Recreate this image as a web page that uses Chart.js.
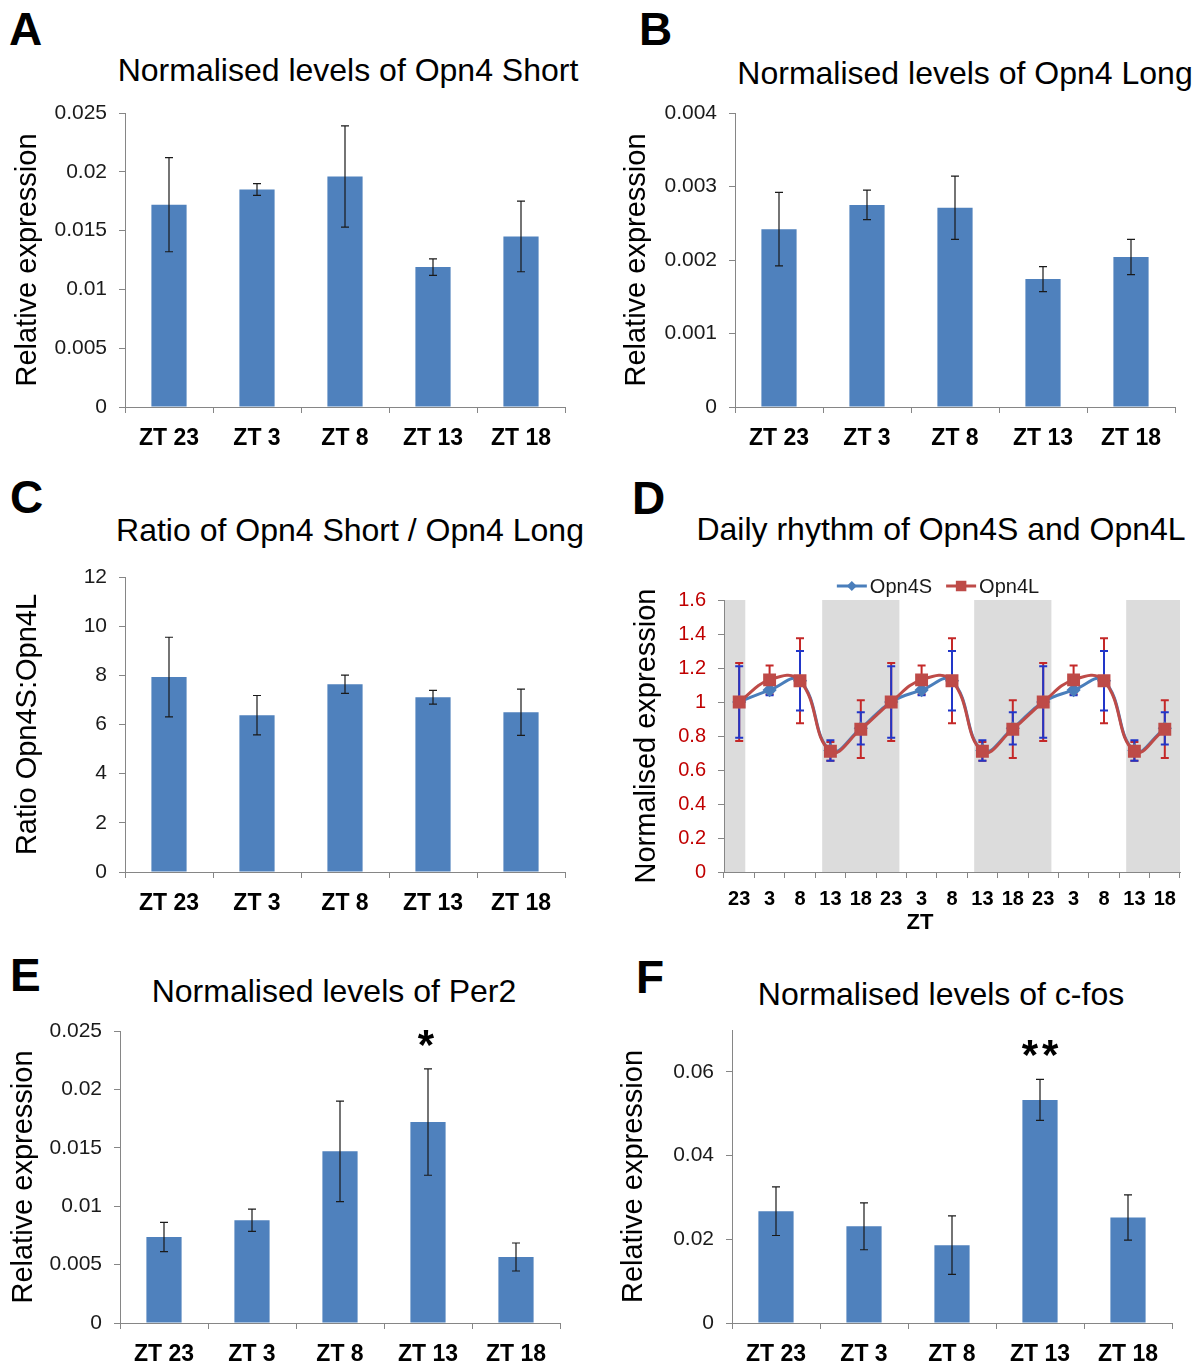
<!DOCTYPE html>
<html>
<head>
<meta charset="utf-8">
<script src="https://cdn.jsdelivr.net/npm/chart.js@4.4.1/dist/chart.umd.min.js"></script>
<style>
  body { margin: 0; background: #fff; }
  #page { position: relative; width: 1195px; height: 1366px; overflow: hidden; font-family: "Liberation Sans", Arial, sans-serif; color: #000; }
  canvas { position: absolute; }
  .letter { position: absolute; font-weight: bold; font-size: 46px; line-height: 46px; }
  .title { position: absolute; font-size: 32px; line-height: 36px; white-space: nowrap; transform: translateX(-50%); }
  .axislabel { position: absolute; font-size: 22px; font-weight: bold; line-height: 26px; transform: translateX(-50%); }
</style>
</head>
<body>
<div id="page">
  <div class="letter" style="left:9px;top:6px">A</div>
  <div class="letter" style="left:639px;top:6px">B</div>
  <div class="letter" style="left:10px;top:474px">C</div>
  <div class="letter" style="left:632px;top:475px">D</div>
  <div class="letter" style="left:10px;top:952px">E</div>
  <div class="letter" style="left:636px;top:954px">F</div>

  <div class="title" style="left:348px;top:52px">Normalised levels of Opn4 Short</div>
  <div class="title" style="left:965px;top:55px">Normalised levels of Opn4 Long</div>
  <div class="title" style="left:350px;top:512px">Ratio of Opn4 Short / Opn4 Long</div>
  <div class="title" style="left:941px;top:511px">Daily rhythm of Opn4S and Opn4L</div>
  <div class="title" style="left:334px;top:973px">Normalised levels of Per2</div>
  <div class="title" style="left:941px;top:976px">Normalised levels of c-fos</div>

  <canvas id="chartA" width="600" height="387" style="left:0;top:83px"></canvas>
  <canvas id="chartB" width="595" height="387" style="left:600px;top:83px"></canvas>
  <canvas id="chartC" width="600" height="388" style="left:0;top:547px"></canvas>
  <canvas id="chartD" width="595" height="390" style="left:600px;top:555px"></canvas>
  <canvas id="chartE" width="600" height="365" style="left:0;top:1001px"></canvas>
  <canvas id="chartF" width="595" height="366" style="left:600px;top:1000px"></canvas>

  <div class="axislabel" style="left:920px;top:909px">ZT</div>
</div>
<script>
// categories for the bar panels
const categories = ['ZT 23', 'ZT 3', 'ZT 8', 'ZT 13', 'ZT 18'];

// A - Opn4 Short
const opn4ShortMean = [0.0172, 0.0185, 0.0196, 0.0119, 0.0145];
const opn4ShortErr  = [0.0040, 0.0005, 0.0043, 0.0007, 0.0030];

// B - Opn4 Long
const opn4LongMean = [0.00242, 0.00275, 0.00271, 0.00174, 0.00204];
const opn4LongErr  = [0.00050, 0.00020, 0.00043, 0.00017, 0.00024];

// C - ratio short / long
const ratioMean = [7.93, 6.38, 7.64, 7.11, 6.50];
const ratioErr  = [1.62, 0.80, 0.37, 0.28, 0.94];

// E - Per2
const per2Mean  = [0.00736, 0.0088, 0.0147, 0.0172, 0.00565];
const per2Err   = [0.00125, 0.00095, 0.0043, 0.00455, 0.0012];
const per2Stars = ['', '', '', '*', ''];

// F - c-fos
const cfosMean  = [0.0267, 0.0231, 0.0186, 0.0533, 0.0252];
const cfosErr   = [0.0058, 0.0056, 0.0070, 0.0049, 0.0054];
const cfosStars = ['', '', '', '**', ''];

// D - daily rhythm, three cycles
const ztLabels = ['23', '3', '8', '13', '18', '23', '3', '8', '13', '18', '23', '3', '8', '13', '18'];
const opn4SRhythm    = [1.00, 1.07, 1.125, 0.715, 0.845, 1.00, 1.07, 1.125, 0.715, 0.845, 1.00, 1.07, 1.125, 0.715, 0.845];
const opn4SRhythmErr = [0.21, 0.03, 0.175, 0.06, 0.095, 0.21, 0.03, 0.175, 0.06, 0.095, 0.21, 0.03, 0.175, 0.06, 0.095];
const opn4LRhythm    = [1.00, 1.13, 1.125, 0.71, 0.84, 1.00, 1.13, 1.125, 0.71, 0.84, 1.00, 1.13, 1.125, 0.71, 0.84];
const opn4LRhythmErr = [0.23, 0.085, 0.25, 0.055, 0.17, 0.23, 0.085, 0.25, 0.055, 0.17, 0.23, 0.085, 0.25, 0.055, 0.17];
// dark phases, in category-index units of the ZT axis
const darkBands = [[-0.5, 0.2], [2.73, 5.27], [7.73, 10.27], [12.73, 14.5]];

Chart.defaults.font.family = '"Liberation Sans", Arial, Helvetica, sans-serif';
Chart.defaults.color = '#1a1a1a';
Chart.defaults.animation = false;
Chart.defaults.plugins.legend.display = false;
Chart.defaults.plugins.tooltip.enabled = false;

const axisGrey = '#868686';
const barBlue = '#4F81BD';

function fmt(v) {
    return String(+Number(v).toFixed(4));
}

function drawErrors(chart, opts) {
    const ctx = chart.ctx;
    const yScale = chart.scales.y;
    const sets = chart.data.datasets;
    // last dataset first, so the first one ends up on top
    for (let i = sets.length - 1; i >= 0; i--) {
        const ds = sets[i];
        if (!ds.errors) continue;
        const meta = chart.getDatasetMeta(i);
        ctx.save();
        ctx.strokeStyle = ds.errorColor || opts.color || '#1a1a1a';
        ctx.lineWidth = opts.width || 1;
        meta.data.forEach(function (el, j) {
            const v = ds.data[j], e = ds.errors[j];
            const top = yScale.getPixelForValue(v + e);
            const bot = yScale.getPixelForValue(v - e);
            const cap = opts.cap || 4;
            ctx.beginPath();
            ctx.moveTo(el.x, top); ctx.lineTo(el.x, bot);
            ctx.moveTo(el.x - cap, top); ctx.lineTo(el.x + cap, top);
            ctx.moveTo(el.x - cap, bot); ctx.lineTo(el.x + cap, bot);
            ctx.stroke();
        });
        ctx.restore();
    }
}

const errorBarPlugin = {
    id: 'errorBars',
    beforeDatasetsDraw(chart, args, opts) {
        if (opts.behind) drawErrors(chart, opts);
    },
    afterDatasetsDraw(chart, args, opts) {
        if (!opts.behind) drawErrors(chart, opts);
    }
};

const starPlugin = {
    id: 'sigStars',
    afterDatasetsDraw(chart) {
        const ctx = chart.ctx;
        const yScale = chart.scales.y;
        chart.data.datasets.forEach(function (ds, i) {
            if (!ds.stars) return;
            chart.getDatasetMeta(i).data.forEach(function (bar, j) {
                if (!ds.stars[j]) return;
                const top = yScale.getPixelForValue(ds.data[j] + ds.errors[j]);
                ctx.save();
                ctx.font = 'bold 42px "Liberation Sans", Arial, sans-serif';
                ctx.letterSpacing = '4px';
                ctx.fillStyle = '#000';
                ctx.textAlign = 'center';
                ctx.textBaseline = 'alphabetic';
                ctx.fillText(ds.stars[j], bar.x + (ds.stars[j].length > 1 ? 2 : 0), top - 10);
                ctx.restore();
            });
        });
    }
};

const darkBandPlugin = {
    id: 'darkBands',
    beforeDraw(chart) {
        const ctx = chart.ctx;
        const area = chart.chartArea;
        const xScale = chart.scales.x;
        ctx.save();
        ctx.fillStyle = '#DCDCDC';
        darkBands.forEach(function (b) {
            const x0 = xScale.getPixelForValue(b[0]);
            const x1 = xScale.getPixelForValue(b[1]);
            ctx.fillRect(x0, area.top, x1 - x0, area.bottom - area.top);
        });
        ctx.restore();
    }
};

const lineLegendPlugin = {
    id: 'lineLegend',
    afterDraw(chart, args, opts) {
        const ctx = chart.ctx;
        const sample = 30, gap = 3, spacing = 14;
        ctx.save();
        ctx.font = '20px "Liberation Sans", Arial, sans-serif';
        ctx.textBaseline = 'middle';
        const items = chart.data.datasets.map(function (ds) {
            return { ds: ds, w: sample + gap + ctx.measureText(ds.label).width };
        });
        const total = items.reduce(function (s, it) { return s + it.w; }, 0) + spacing * (items.length - 1);
        let x = opts.centerX - total / 2;
        const y = opts.y;
        items.forEach(function (it) {
            const ds = it.ds;
            ctx.strokeStyle = ds.borderColor;
            ctx.lineWidth = ds.borderWidth;
            ctx.beginPath(); ctx.moveTo(x, y); ctx.lineTo(x + sample, y); ctx.stroke();
            const cx = x + sample / 2, r = ds.pointRadius;
            ctx.fillStyle = ds.backgroundColor;
            ctx.beginPath();
            if (ds.pointStyle === 'rectRot') {
                ctx.moveTo(cx, y - r); ctx.lineTo(cx + r, y); ctx.lineTo(cx, y + r); ctx.lineTo(cx - r, y);
                ctx.closePath();
            } else {
                const h = r * 0.75;
                ctx.rect(cx - h, y - h, h * 2, h * 2);
            }
            ctx.fill();
            ctx.fillStyle = '#1a1a1a';
            ctx.fillText(ds.label, x + sample + gap, y + 1);
            x += it.w + spacing;
        });
        ctx.restore();
    }
};

function barChart(id, values, errors, stars, yTitle, yMax, yStep, box) {
    return new Chart(id, {
        type: 'bar',
        data: {
            labels: categories,
            datasets: [{
                data: values,
                errors: errors,
                stars: stars,
                backgroundColor: barBlue,
                barPercentage: 0.4,
                categoryPercentage: 1
            }]
        },
        options: {
            responsive: false,
            layout: { padding: { top: 30, right: box.right, left: 0, bottom: 0 } },
            plugins: { errorBars: { color: '#1a1a1a', width: 1.2, cap: 4 } },
            scales: {
                x: {
                    grid: { drawOnChartArea: false, tickLength: 6, color: axisGrey, offset: true },
                    border: { color: axisGrey },
                    ticks: { font: { size: 23, weight: 'bold' }, color: '#000', padding: 12, maxRotation: 0 },
                    afterFit: function (s) { s.height = box.xHeight; }
                },
                y: {
                    min: 0,
                    max: yMax,
                    grid: { drawOnChartArea: false, tickLength: 6, color: axisGrey },
                    border: { color: axisGrey },
                    ticks: { stepSize: yStep, font: { size: 21 }, padding: 12, callback: fmt, includeBounds: false },
                    title: { display: true, text: yTitle, font: { size: 29 }, color: '#000', padding: { top: box.titlePad, bottom: 0 } },
                    afterFit: function (s) { s.width = box.yWidth; }
                }
            }
        },
        plugins: [errorBarPlugin, starPlugin]
    });
}

barChart('chartA', opn4ShortMean, opn4ShortErr, null, 'Relative expression', 0.025, 0.005,
    { right: 35, xHeight: 63, yWidth: 125, titlePad: 11 });
barChart('chartB', opn4LongMean, opn4LongErr, null, 'Relative expression', 0.004, 0.001,
    { right: 20, xHeight: 63, yWidth: 135, titlePad: 20 });
barChart('chartC', ratioMean, ratioErr, null, 'Ratio Opn4S:Opn4L', 12, 2,
    { right: 35, xHeight: 63, yWidth: 125, titlePad: 11 });
barChart('chartE', per2Mean, per2Err, per2Stars, 'Relative expression', 0.025, 0.005,
    { right: 40, xHeight: 43, yWidth: 120, titlePad: 7 });
barChart('chartF', cfosMean, cfosErr, cfosStars, 'Relative expression', 0.07, 0.02,
    { right: 23, xHeight: 43, yWidth: 132, titlePad: 17 });

new Chart('chartD', {
    type: 'line',
    data: {
        labels: ztLabels,
        datasets: [{
            label: 'Opn4S',
            data: opn4SRhythm,
            errors: opn4SRhythmErr,
            errorColor: '#2236C8',
            borderColor: '#4A7EBB',
            backgroundColor: '#4A7EBB',
            pointStyle: 'rectRot',
            pointRadius: 5,
            borderWidth: 3,
            tension: 0.45,
            order: 1
        }, {
            label: 'Opn4L',
            data: opn4LRhythm,
            errors: opn4LRhythmErr,
            errorColor: '#C42828',
            borderColor: '#BE4B48',
            backgroundColor: '#BE4B48',
            pointStyle: 'rect',
            pointRadius: 7,
            borderWidth: 3,
            tension: 0.45,
            order: 0
        }]
    },
    options: {
        responsive: false,
        layout: { padding: { top: 45, right: 15, left: 0, bottom: 0 } },
        plugins: {
            errorBars: { behind: true, width: 2, cap: 4 },
            lineLegend: { centerX: 338, y: 31 }
        },
        scales: {
            x: {
                offset: true,
                grid: { offset: true, drawOnChartArea: false, tickLength: 6, color: axisGrey },
                border: { color: axisGrey },
                ticks: { font: { size: 20, weight: 'bold' }, color: '#000', padding: 9, autoSkip: false, maxRotation: 0 },
                afterFit: function (s) { s.height = 73; }
            },
            y: {
                min: 0,
                max: 1.6,
                grid: { drawOnChartArea: false, tickLength: 6, color: axisGrey },
                border: { color: axisGrey },
                ticks: { stepSize: 0.2, font: { size: 20 }, color: '#C00000', padding: 12, callback: fmt },
                title: { display: true, text: 'Normalised expression', font: { size: 29 }, color: '#000', padding: { top: 30, bottom: 0 } },
                afterFit: function (s) { s.width = 124; }
            }
        }
    },
    plugins: [darkBandPlugin, errorBarPlugin, lineLegendPlugin]
});
</script>
</body>
</html>
